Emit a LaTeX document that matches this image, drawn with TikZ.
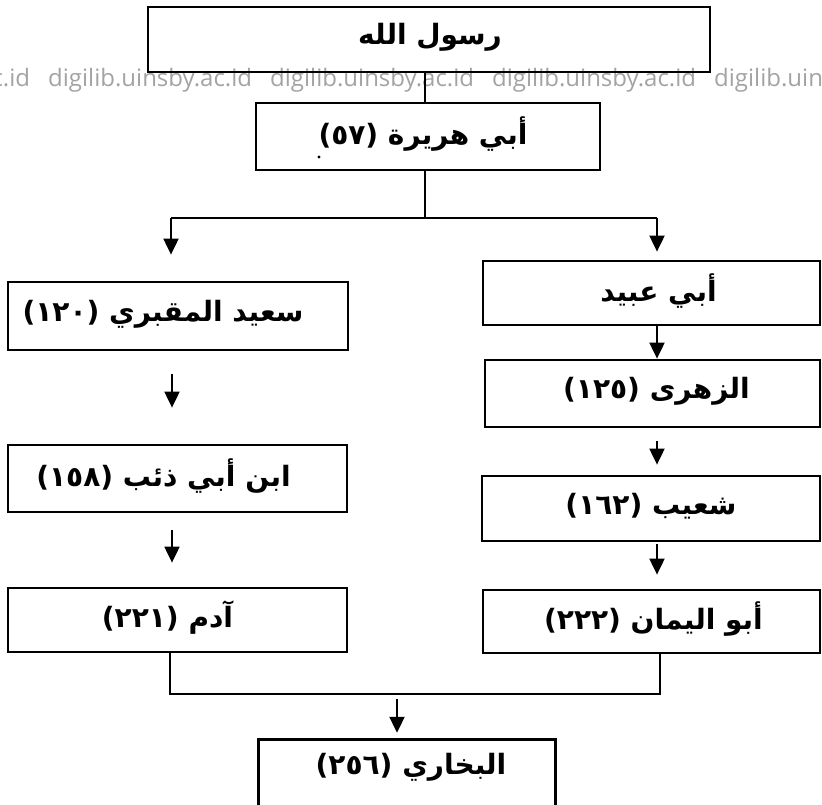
\documentclass[tikz,border=0pt]{standalone}
\usepackage{fontspec}
\setmainfont{DejaVu Sans}
\newfontfamily\arabicfont[Script=Arabic]{DejaVu Sans}
\newfontfamily\markfont{Open Sans}
\TeXXeTstate=1
\usetikzlibrary{arrows.meta,calc}
\begin{document}
\begin{tikzpicture}[x=1pt,y=-1pt,
  box/.style={draw, line width=2.8pt, inner sep=0pt},
  narrator/.style={inner sep=0pt, font=\arabicfont\bfseries\fontsize{28}{32}\selectfont},
  frame/.style={line width=2.8pt},
  link/.style={line width=2pt},
  arr/.style={line width=2pt, -{Triangle[length=16pt,width=15pt]}},
  wmark/.style={anchor=base west, inner sep=0pt, text=black!36,
    font=\markfont\fontsize{24}{28}\selectfont}]
\useasboundingbox (0,0) rectangle (822,804);

% repeated library watermark across the page
\foreach \x in {-174,48,270,492,714}
  \node[wmark] at (\x,86) {digilib.uinsby.ac.id};

% boxes of the chain
\node[box, minimum width=562pt, minimum height=65pt] (rasul)   at (429,39.5)   {};
\node[box, minimum width=344pt, minimum height=67pt] (hurayra) at (428,136.5)  {};
\node[box, minimum width=337pt, minimum height=64pt] (ubaid)   at (651.5,293)  {};
\node[box, minimum width=335pt, minimum height=67pt] (zuhri)   at (652.5,393.5){};
\node[box, minimum width=338pt, minimum height=65pt] (shuayb)  at (651,508.5)  {};
\node[box, minimum width=337pt, minimum height=63pt] (yaman)   at (651.5,621.5){};
\node[box, minimum width=340pt, minimum height=68pt] (said)    at (178,316)    {};
\node[box, minimum width=339pt, minimum height=67pt] (ibn)     at (177.5,478.5){};
\node[box, minimum width=339pt, minimum height=64pt] (adam)    at (177.5,620)  {};
\node[inner sep=0pt, minimum width=296pt, minimum height=54pt] (bukhari) at (407,767) {};
\draw[frame] ($(bukhari.south west)+(0,40)$) |- (bukhari.north east) -- ($(bukhari.south east)+(0,40)$);

% narrator names
\node[narrator] (rasul-t)   at ([xshift=1pt,yshift=2pt]rasul.center)    {\beginR رسول الله\endR};
\node[narrator] (hurayra-t) at ([xshift=-5pt,yshift=2pt]hurayra.center) {\beginR أبي هريرة (٥٧)\endR};
\node[narrator] (ubaid-t)   at ([xshift=7pt,yshift=2pt]ubaid.center)    {\beginR أبي عبيد\endR};
\node[narrator] (zuhri-t)   at ([xshift=4pt,yshift=2pt]zuhri.center)    {\beginR الزهرى (١٢٥)\endR};
\node[narrator] (shuayb-t)  at ([xshift=0pt,yshift=2pt]shuayb.center)   {\beginR شعيب (١٦٢)\endR};
\node[narrator] (yaman-t)   at ([xshift=2pt,yshift=2pt]yaman.center)    {\beginR أبو اليمان (٢٢٢)\endR};
\node[narrator] (said-t)    at ([xshift=-15pt,yshift=2pt]said.center)   {\beginR سعيد المقبري (١٢٠)\endR};
\node[narrator] (ibn-t)     at ([xshift=-14pt,yshift=2pt]ibn.center)    {\beginR ابن أبي ذئب (١٥٨)\endR};
\node[narrator] (adam-t)    at ([xshift=-10pt,yshift=2pt]adam.center)   {\beginR آدم (٢٢١)\endR};
\node[narrator] (bukhari-t) at ([xshift=4pt]bukhari.center)             {\beginR البخاري (٢٥٦)\endR};

% stray dot inside the second box
\fill (319,157) circle (1.6pt);

% top link and split
\coordinate (split)  at (425,218);
\coordinate (splitL) at (171,218);
\coordinate (splitR) at (657,218);
\draw[link] (rasul.south -| split) -- (hurayra.north -| split);
\draw[link] (hurayra.south -| split) -- (split);
\draw[link] (splitL) -- (splitR);
\draw[arr, shorten >=26pt] (splitL) -- (splitL |- said.north);
\draw[arr, shorten >=8pt]  (splitR) -- (splitR |- ubaid.north);

% right column
\draw[arr] (ubaid.south -| splitR) -- (zuhri.north -| splitR);
\draw[arr, shorten <=13pt, shorten >=10pt] (zuhri.south -| splitR) -- (shuayb.north -| splitR);
\draw[arr, shorten <=2pt, shorten >=14pt] (shuayb.south -| splitR) -- (yaman.north -| splitR);

% left column
\coordinate (colL) at (172,0);
\draw[arr, shorten <=23pt, shorten >=36pt] (said.south -| colL) -- (ibn.north -| colL);
\draw[arr, shorten <=17pt, shorten >=24pt] (ibn.south -| colL) -- (adam.north -| colL);

% merge into the last narrator
\coordinate (joinL) at (170,694);
\coordinate (joinR) at (660,694);
\coordinate (joinA) at (397,699);
\draw[link] (adam.south -| joinL) -- (joinL) -- (joinR) -- (yaman.south -| joinR);
\draw[arr, shorten >=7pt] (joinA) -- (bukhari.north -| joinA);
\end{tikzpicture}
\end{document}
